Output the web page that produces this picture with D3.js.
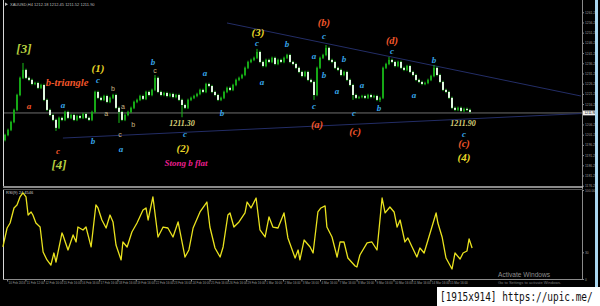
<!DOCTYPE html>
<head>
<meta charset="utf-8">
<script src="https://cdn.jsdelivr.net/npm/d3@7"></script>
<style>
body { margin: 0; background: #000; }
svg { display: block; }
.wave { font-family: "Liberation Serif", serif; font-style: italic; font-weight: bold; }
.micro { font-family: "Liberation Sans", Arial, sans-serif; }
.axis text { fill: #9c9c9c; font: 3.3px "Liberation Sans", Arial; }
.axis path, .axis line { stroke: #8a8a8a; }
</style>
</head>
<body>
<svg id="chart" width="600" height="306"></svg>
<script>
// XAUUSD H4 closes, one per bar
var firstOpen = 1198.6;
var closes = [
 1201.1,1203.6,1207.5,1213.4,1220.7,1229.1,1233.0,1229.1,1228.1,1226.1,
 1226.6,1224.2,1225.6,1218.3,1213.4,1210.9,1208.5,1204.6,1209.5,1208.5,
 1212.4,1209.5,1210.9,1208.5,1210.4,1209.5,1211.4,1209.5,1208.5,1212.4,
 1222.2,1219.3,1218.3,1220.2,1217.3,1219.3,1220.7,1214.4,1212.4,1208.5,
 1210.9,1212.4,1214.4,1217.3,1218.3,1220.2,1218.8,1222.2,1220.7,1223.2,
 1229.1,1222.2,1220.7,1221.7,1220.2,1221.2,1219.7,1220.7,1218.3,1215.8,
 1214.4,1218.3,1219.3,1220.2,1221.2,1223.2,1222.2,1226.1,1225.1,1222.2,
 1220.7,1218.3,1219.3,1222.2,1224.2,1223.2,1225.6,1228.1,1229.1,1230.5,
 1234.0,1236.9,1237.9,1238.9,1241.8,1236.9,1234.9,1237.9,1236.9,1238.9,
 1235.9,1237.9,1236.9,1238.9,1240.3,1236.9,1235.9,1234.0,1232.0,1230.0,
 1232.0,1228.1,1227.1,1220.7,1234.0,1238.9,1240.3,1243.8,1237.9,1236.9,
 1234.0,1233.0,1230.5,1232.0,1228.1,1225.6,1220.7,1219.3,1219.7,1220.2,
 1219.3,1220.7,1219.7,1220.2,1218.3,1219.3,1234.0,1235.9,1237.9,1236.9,
 1234.9,1236.9,1234.0,1233.0,1234.9,1232.0,1230.5,1228.1,1227.1,1226.1,
 1226.6,1228.1,1230.0,1234.0,1230.5,1227.1,1223.2,1222.2,1219.3,1214.4,
 1213.4,1214.4,1212.9,1213.9,1213.4,1212.4
];
// notable wick extremes [bar, price]
var wickHighs = [[6,1236.4],[50,1230.5],[84,1243.3],[107,1245.2],[128,1239.3],[143,1235.4]];
var wickLows  = [[17,1203.1],[38,1207.0],[59,1209.8],[103,1218.3],[116,1218.3],[125,1217.3]];

// RSI(9) key points: bar position and value
var rsiPos = [-0.7,0.7,1.7,3,4,5,6,7,7.7,8.7,9.3,10.3,11.7,12.7,14,15.3,16.3,17,19,19.3,
 21,22.7,23.7,24.3,26,27,28.7,30.3,31,32.3,33.7,35,36,37,38.7,39.3,40.7,42.3,44,46,
 47,47.7,49.3,51,52.7,54.3,56,57.7,60,61.3,62.7,65,67.3,68.3,70,71.7,72.7,74.3,75,76.3,
 78,80,80.7,82,83.7,85,86.7,88,89.3,91,93,94.3,96.7,97.7,98.3,99.7,101.7,102.7,104.3,105.3,
 106.7,107.3,109,110.7,111.7,113,114.3,116.7,117.3,118.3,120.7,122.3,124,125.7,126.7,128.3,129.7,130.7,131.7,133.3,
 134.3,135.7,137.3,138.3,139.7,141.7,143.7,144.3,145.7,147,149,150,151.7,152.7,154,154.7,155.7];
var rsiVal = [36.0,57.3,62.9,79.8,83.2,92.2,96.7,92.2,71.9,75.3,71.9,62.9,58.4,30.3,21.4,15.7,29.2,19.1,51.7,49.5,
 32.6,49.5,41.6,58.4,55.1,58.4,36.0,83.2,79.8,66.3,57.3,71.9,64.1,38.2,21.4,41.6,36.0,52.8,62.9,77.6,
 79.8,66.3,92.2,47.2,58.4,57.3,47.2,64.1,24.7,32.6,57.3,75.3,86.5,58.4,34.8,24.7,36.0,71.9,74.2,58.4,
 64.1,74.2,86.5,79.8,91.0,55.1,47.2,69.7,58.4,57.3,74.2,46.1,23.6,32.6,21.4,43.8,36.0,29.2,75.3,79.8,
 82.1,58.4,47.2,24.7,41.6,41.6,23.6,14.6,13.5,27.0,40.5,41.6,32.6,91.0,74.2,80.9,75.3,58.4,66.3,41.6,
 46.1,36.0,24.7,34.8,29.2,51.7,74.2,62.9,47.2,23.6,11.2,29.2,22.5,29.2,31.5,45.0,34.8];

var lastPrice = 1211.90;
var priceTicks = [1176.25,1181.25,1186.25,1191.25,1196.25,1201.25,1206.25,1216.25,1221.25,1226.25,
 1231.25,1236.25,1241.25,1246.25,1251.25,1256.25,1261.25];
var dateBars = [0.7,6.8,13,19.1,25.2,31.4,37.5,43.6,49.8,55.9,62,68.2,74.3,80.4,86.6,92.7,98.8,
 105,111.1,117.2,123.4,129.5,135.6,141.8,147.9];
var dateLabels = ["10 Feb 2016","11 Feb 12:00","12 Feb 16:00","15 Feb 16:00","16 Feb 16:00","17 Feb 16:00",
 "18 Feb 16:00","19 Feb 16:00","22 Feb 16:00","23 Feb 16:00","24 Feb 16:00","25 Feb 16:00","26 Feb 16:00",
 "29 Feb 16:00","1 Mar 16:00","2 Mar 16:00","3 Mar 16:00","4 Mar 16:00","7 Mar 16:00","8 Mar 16:00",
 "9 Mar 16:00","10 Mar 16:00","11 Mar 16:00","14 Mar 16:00","15 Mar 16:00"];

// trendlines [bar, price]
var upperLine = [[74,1256.0],[192,1220.2]];
var lowerLine = [[19.3,1199.6],[192,1211.6]];

// wave labels: text, bar, price, kind
var waveLabels = [
 ["[3]",6.3,1243.3,"deg"],["[4]",18,1186.9,"deg"],
 ["b-triangle",20.7,1227.1,"minor"],["a",8,1215.3,"minorS"],["c",17.7,1193.3,"minorS"],
 ["(1)",31,1233.9,"inter"],["(2)",59.3,1194.8,"inter"],["(3)",84.3,1251.6,"inter"],["(4)",153,1190.3,"inter"],
 ["(a)",104,1206.5,"minor"],["(b)",106.3,1256.5,"minor"],["(c)",116.7,1203.1,"minor"],
 ["(d)",129,1247.7,"minor"],["(c)",153,1197.0,"minor"],
 ["a",19.3,1215.8,"sub"],["c",31,1228.1,"sub"],["b",29.3,1198.2,"sub"],["a",38.7,1194.3,"sub"],
 ["b",49.3,1236.9,"sub"],["c",60,1201.6,"sub"],["a",66.7,1231.5,"sub"],["b",72.3,1211.9,"sub"],
 ["c",84,1246.2,"sub"],["a",85.7,1227.1,"sub"],["b",94,1245.7,"sub"],["a",103,1239.8,"sub"],
 ["c",103,1215.3,"sub"],["c",106.3,1249.6,"sub"],["b",106.3,1230.5,"sub"],["a",110.7,1222.7,"sub"],
 ["b",113,1238.4,"sub"],["c",116.3,1211.9,"sub"],["a",119,1225.6,"sub"],["b",124.7,1214.4,"sub"],
 ["c",129,1242.3,"sub"],["a",136.3,1220.7,"sub"],["b",143,1237.9,"sub"],["c",153,1201.8,"sub"],
 ["b",36,1223.7,"micro"],["a",33.7,1211.4,"micro"],["a",39.3,1214.8,"micro"],["b",42.7,1206.0,"micro"],
 ["c",38.3,1201.1,"micro"],["c",50,1232.5,"micro"],
 ["1211.30",59,1206.8,"price"],["1211.90",152.7,1207.1,"price"],
 ["Stong b flat",60.3,1187.4,"note"]
];
var kindStyle = {
 deg:    {fill:"#b7cf3e", size:13,  cls:"wave"},
 inter:  {fill:"#e8d626", size:11,  cls:"wave"},
 minor:  {fill:"#f2562a", size:10.5,cls:"wave"},
 minorS: {fill:"#f2562a", size:9,   cls:"wave"},
 sub:    {fill:"#37a4e8", size:9,   cls:"wave"},
 micro:  {fill:"#c9b684", size:7,   cls:"micro"},
 price:  {fill:"#d9d27a", size:8,   cls:"wave"},
 note:   {fill:"#ea1f8e", size:9,   cls:"wave"}
};

var svg = d3.select("#chart");
svg.append("rect").attr("width", 600).attr("height", 306).attr("fill", "#000");

var x  = d3.scaleLinear().domain([0, closes.length - 1]).range([5, 470]);
var y  = d3.scaleLinear().domain([1176.1, 1265.3]).range([186, 4]);
var yr = d3.scaleLinear().domain([0, 100]).range([279, 190]);

svg.append("clipPath").attr("id", "mainClip").append("rect")
    .attr("x", 4).attr("y", 0).attr("width", 578).attr("height", 186);

var main = svg.append("g").attr("clip-path", "url(#mainClip)");

// current price line
main.append("line").attr("x1", 4).attr("x2", 582)
    .attr("y1", y(lastPrice)).attr("y2", y(lastPrice))
    .attr("stroke", "#8c8c8c").attr("stroke-width", 0.8);

// trendlines
var tl = d3.line().x(d => x(d[0])).y(d => y(d[1]));
[upperLine, lowerLine].forEach(function(l) {
    main.append("path").attr("d", tl(l)).attr("fill", "none")
        .attr("stroke", "#232d66").attr("stroke-width", 1);
});

// candles
var bars = closes.map(function(c, i) {
    var o = i ? closes[i - 1] : firstOpen;
    var hi = Math.max(o, c) + 0.6, lo = Math.min(o, c) - 0.6;
    wickHighs.forEach(function(w) { if (w[0] == i) hi = Math.max(hi, w[1]); });
    wickLows.forEach(function(w) { if (w[0] == i) lo = Math.min(lo, w[1]); });
    return {i: i, o: o, c: c, hi: hi, lo: lo};
});

var candle = main.selectAll("g.candle").data(bars).enter().append("g").attr("class", "candle");
candle.append("line")
    .attr("x1", d => x(d.i)).attr("x2", d => x(d.i))
    .attr("y1", d => y(d.hi)).attr("y2", d => y(d.lo))
    .attr("stroke", "#19c019").attr("stroke-width", 1);
candle.append("rect")
    .attr("x", d => x(d.i) - 1).attr("width", 2)
    .attr("y", d => y(Math.max(d.o, d.c)))
    .attr("height", d => Math.max(0.8, Math.abs(y(d.o) - y(d.c))))
    .attr("fill", d => d.c >= d.o ? "#16a816" : "#dff7df");

// wave labels
main.selectAll("text.lbl").data(waveLabels).enter().append("text")
    .attr("class", d => "lbl " + kindStyle[d[3]].cls)
    .attr("x", d => x(d[1])).attr("y", d => y(d[2]))
    .attr("dy", "0.35em").attr("text-anchor", "middle")
    .attr("font-size", d => kindStyle[d[3]].size)
    .attr("fill", d => kindStyle[d[3]].fill)
    .text(d => d[0]);

// header
svg.append("path").attr("d", "M5,2.5 L8,4.2 L5,5.9 Z").attr("fill", "#bbb");
svg.append("text").attr("x", 10).attr("y", 5.6).attr("fill", "#bdbdbd")
    .style("font", "4px 'Liberation Sans', Arial")
    .text("XAUUSD,H4  1212.18 1212.45 1211.52 1211.90");

// price axis
var pAxis = svg.append("g").attr("class", "axis").attr("transform", "translate(582.5,0)")
    .call(d3.axisRight(y).tickValues(priceTicks).tickSize(1.5).tickPadding(1).tickFormat(d3.format(".2f")));
pAxis.select(".domain").remove();
svg.append("rect").attr("x", 583).attr("y", y(lastPrice) - 2.4).attr("width", 12).attr("height", 4.8).attr("fill", "#f0f0f0");
svg.append("text").attr("x", 584.5).attr("y", y(lastPrice) + 1.2).attr("fill", "#000")
    .style("font", "3.3px 'Liberation Sans', Arial").text(lastPrice.toFixed(2));

// window frames
svg.append("line").attr("x1", 3.5).attr("x2", 3.5).attr("y1", 0).attr("y2", 186).attr("stroke", "#d8d8d8");
svg.append("line").attr("x1", 582.5).attr("x2", 582.5).attr("y1", 0).attr("y2", 280).attr("stroke", "#8a8a8a");
svg.append("line").attr("x1", 3).attr("x2", 583).attr("y1", 187).attr("y2", 187).attr("stroke", "#b8b8b8").attr("stroke-width", 1.5);
svg.append("line").attr("x1", 3.5).attr("x2", 3.5).attr("y1", 189).attr("y2", 280).attr("stroke", "#d8d8d8");
svg.append("line").attr("x1", 3).attr("x2", 583).attr("y1", 189.5).attr("y2", 189.5).attr("stroke", "#555");

// RSI window
svg.append("text").attr("x", 6).attr("y", 194).attr("fill", "#cfcfcf")
    .style("font", "4px 'Liberation Sans', Arial").text("RSI(9) 24.4546");
var rsiLine = d3.line().x((d, i) => x(rsiPos[i])).y(d => yr(d));
svg.append("path").attr("d", rsiLine(rsiVal)).attr("fill", "none")
    .attr("stroke", "#e9e21e").attr("stroke-width", 1.3).attr("stroke-linejoin", "round");

var rAxis = svg.append("g").attr("class", "axis").attr("transform", "translate(582.5,0)")
    .call(d3.axisRight(yr).tickValues([100, 30, 0]).tickSize(1.5).tickPadding(1).tickFormat(d => d == 100 ? "100.00" : d));
rAxis.select(".domain").remove();

// date axis
var dAxis = svg.append("g").attr("class", "axis").attr("transform", "translate(0,279.5)")
    .call(d3.axisBottom(x).tickValues(dateBars).tickSize(2).tickFormat((d, i) => dateLabels[i]));
dAxis.select(".domain").attr("d", "M3,0H583").attr("stroke", "#d8d8d8");
dAxis.selectAll("text").attr("text-anchor", "start").attr("dx", "0.3em").attr("y", 2.2)
    .style("font-size", "3px");

// right side bar
svg.append("rect").attr("x", 595).attr("y", 0).attr("width", 3).attr("height", 287).attr("fill", "#a9d6ef");

// windows watermark
svg.append("text").attr("x", 498).attr("y", 277).attr("fill", "#8e8e8e")
    .style("font", "6.6px 'Liberation Sans', Arial").text("Activate Windows");
svg.append("text").attr("x", 498).attr("y", 283.5).attr("fill", "#7a7a7a")
    .style("font", "4px 'Liberation Sans', Arial").text("Go to Settings to activate Windows.");

// upload stamp
svg.append("rect").attr("x", 437).attr("y", 287).attr("width", 163).attr("height", 19).attr("fill", "#fff");
svg.append("text").attr("transform", "translate(440,300.5) scale(1,1.25)").attr("fill", "#111")
    .style("font", "9.4px 'DejaVu Sans Mono', monospace").text("[1915x914] https://upic.me/");
</script>
</body>
</html>
